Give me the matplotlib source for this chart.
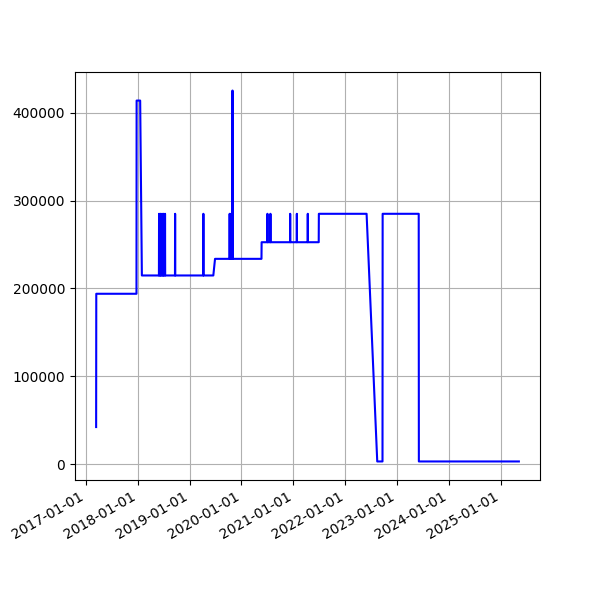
import matplotlib
matplotlib.use("Agg")
import matplotlib.pyplot as plt
import matplotlib.dates as mdates
import pandas as pd

dates = [
    "2017-03-14", "2017-03-15", "2017-12-23", "2017-12-24", "2018-01-18", "2018-01-30",
    "2018-05-30", "2018-05-31", "2018-06-01",
    "2018-06-09", "2018-06-10", "2018-06-11",
    "2018-06-20", "2018-06-21", "2018-06-22",
    "2018-06-30", "2018-07-01", "2018-07-02",
    "2018-07-11", "2018-07-12", "2018-07-13",
    "2018-09-20", "2018-09-21", "2018-09-22",
    "2019-04-07", "2019-04-08", "2019-04-09",
    "2019-06-17", "2019-06-29",
    "2019-10-09", "2019-10-10", "2019-10-11",
    "2019-10-19", "2019-10-20", "2019-10-21",
    "2019-10-29", "2019-10-30", "2019-10-31",
    "2020-05-21", "2020-05-22",
    "2020-07-01", "2020-07-02", "2020-07-03",
    "2020-07-22", "2020-07-23", "2020-07-24",
    "2020-12-08", "2020-12-09", "2020-12-10",
    "2021-01-24", "2021-01-25", "2021-01-26",
    "2021-04-11", "2021-04-12", "2021-04-13",
    "2021-06-28", "2021-06-29",
    "2022-05-31", "2022-08-14", "2022-09-20", "2022-09-21",
    "2023-06-02", "2023-06-03", "2025-05-07",
]
values = [
    42500, 194000, 194000, 413600, 413600, 214800,
    214800, 284900, 214800,
    214800, 284900, 214800,
    214800, 284900, 214800,
    214800, 284900, 214800,
    214800, 284900, 214800,
    214800, 284900, 214800,
    214800, 284900, 214800,
    214800, 233700,
    233700, 284900, 233700,
    233700, 284900, 233700,
    233700, 425000, 233700,
    233700, 252600,
    252600, 284900, 252600,
    252600, 284900, 252600,
    252600, 284900, 252600,
    252600, 284900, 252600,
    252600, 284900, 252600,
    252600, 284900,
    284900, 3400, 3400, 284900,
    284900, 3400, 3400,
]

x = pd.to_datetime(dates)

fig, ax = plt.subplots(figsize=(6, 6), dpi=100)
ax.plot(x, values, color="b")
ax.xaxis.set_major_locator(mdates.YearLocator())
ax.xaxis.set_major_formatter(mdates.DateFormatter("%Y-%m-%d"))
ax.grid(True)
fig.autofmt_xdate()
fig.savefig("out.png")
